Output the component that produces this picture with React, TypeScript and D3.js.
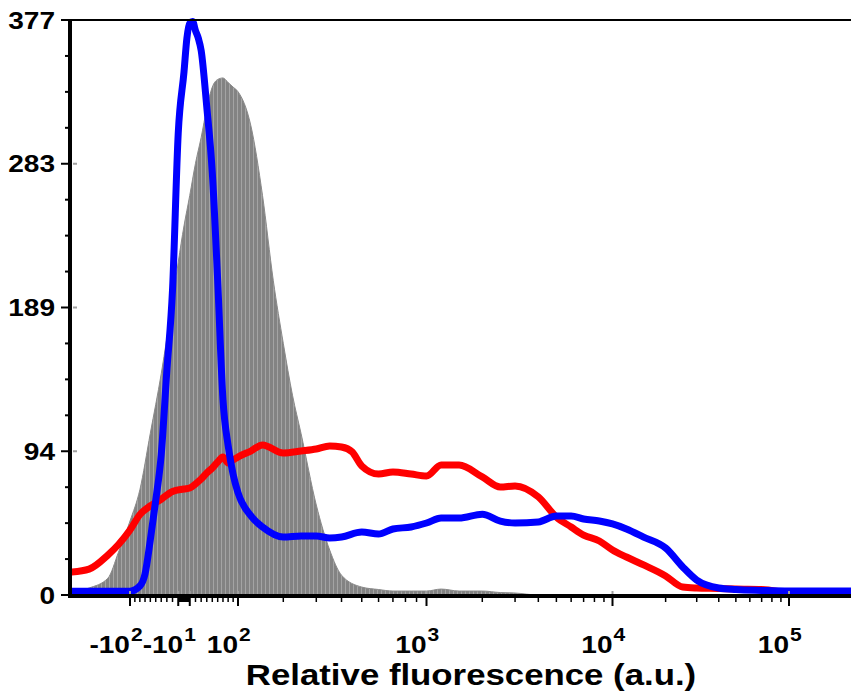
import React from "react";
import * as d3 from "d3";

// ---------- data (fluorescence value, event count) ----------
const grayX = [-255, -200, -150, -125, -100, -80, -60, -40, -20, 0, 10, 20, 30, 40, 50, 60, 70, 80, 90, 100, 125, 150, 175, 200, 225, 250, 300, 350, 400, 500, 600, 700, 850, 1000, 1200, 1500, 2000, 2500, 3000, 4000, 230000];
const grayCount = [2, 4.6, 11, 28, 48.5, 69, 106, 145, 193, 242, 262, 283, 300, 319, 333, 338, 339, 336, 333, 330, 308, 262, 206, 165, 131, 106, 59, 29.5, 13, 5.2, 3.6, 2.6, 2.6, 2.6, 3.9, 2.6, 2.6, 1.6, 1.3, 0, 0];

const redX = [-255, -200, -150, -125, -100, -80, -60, -40, -20, 0, 10, 20, 30, 40, 50, 60, 70, 80, 90, 100, 125, 150, 200, 250, 300, 350, 400, 450, 500, 600, 700, 850, 1000, 1200, 1500, 2000, 2500, 3000, 4000, 5000, 6000, 7000, 8500, 10000, 12000, 15000, 20000, 25000, 30000, 40000, 50000, 70000, 100000, 150000, 230000];
const redCount = [15.1, 17, 26.2, 33.1, 42.6, 52.7, 58.4, 62.8, 67.9, 69.5, 70.2, 72.8, 76, 80, 83.3, 87.2, 90.5, 86.6, 88.5, 90.5, 94.4, 98.4, 93.1, 94.4, 95.7, 97.7, 97, 93.8, 84.6, 79.3, 80.7, 79.3, 78, 85.2, 85.2, 77.4, 70.8, 71.5, 64.3, 51.1, 44.6, 39.3, 35.4, 29.5, 24.9, 19.7, 12.5, 5.2, 4.6, 4.3, 3.9, 3.6, 1.3, 0, 0];

const blueX = [-255, -150, -100, -80, -70, -60, -50, -40, -30, -20, -10, 0, 5, 10, 15, 20, 25, 30, 40, 50, 60, 70, 80, 90, 100, 125, 150, 200, 250, 300, 350, 400, 500, 600, 700, 850, 1000, 1200, 1500, 2000, 2500, 3000, 4000, 5000, 6000, 7000, 8500, 10000, 12000, 15000, 20000, 25000, 30000, 40000, 50000, 70000, 100000, 230000];
const blueCount = [2.5, 2.5, 2.5, 5.9, 13.8, 36, 62, 92, 147, 200, 303, 343, 365, 375, 376, 370, 365, 357, 320, 277, 206, 128, 98, 79, 67, 52, 44.6, 38, 38.7, 38.7, 37.4, 38, 41.3, 40, 43.3, 44.6, 47.2, 50.5, 50.5, 53, 48.5, 47.2, 47.9, 51.8, 51.8, 49.8, 48.5, 46.6, 43.3, 38, 30.8, 18.4, 9.8, 4.6, 3.6, 3, 2.6, 2.6];

const yMax = 377;
const yTickValues = [0, 94.25, 188.5, 282.75, 377];
const yTickLabels = ["0", "94", "189", "283", "377"];

const xMajorTicks = [-100, -10, 10, 100, 1000, 10000, 100000];
const xMinorTicks = [
  -90, -80, -70, -60, -50, -40, -30, -20,
  -9, -8, -7, -6, -5, -4, -3, -2, -1, 1, 2, 3, 4, 5, 6, 7, 8, 9,
  20, 30, 40, 50, 60, 70, 80, 90,
  200, 300, 400, 500, 600, 700, 800, 900,
  2000, 3000, 4000, 5000, 6000, 7000, 8000, 9000,
  20000, 30000, 40000, 50000, 60000, 70000, 80000, 90000,
];
const xTickLabels = [
  { v: -100, base: "-10", exp: "2" },
  { v: -10, base: "-10", exp: "1" },
  { v: 100, base: "10", exp: "2" },
  { v: 1000, base: "10", exp: "3" },
  { v: 10000, base: "10", exp: "4" },
  { v: 100000, base: "10", exp: "5" },
];
const xTitle = "Relative fluorescence (a.u.)";

// ---------- layout ----------
const W = 851;
const H = 693;
const LEFT = 72;
const TOP = 20;
const BOTTOM = 595;
const FONT = "'Liberation Sans', Arial, Helvetica, sans-serif";
const SX = 1.17;

export default function App() {
  const T = (v: number) => Math.asinh(v / 150);
  const xs = d3
    .scaleLinear()
    .domain([-100, 100, 1000, 10000, 100000].map(T))
    .range([130, 238, 426.5, 612.5, 789]);
  const x = (v: number) => xs(T(v));
  const y = d3.scaleLinear().domain([0, yMax]).range([BOTTOM, TOP]);

  const zip = (a: number[], b: number[]) => a.map((v, i) => [v, b[i]] as [number, number]);
  const line = d3
    .line<[number, number]>()
    .x((d) => x(d[0]))
    .y((d) => y(d[1]))
    .curve(d3.curveMonotoneX);
  const area = d3
    .area<[number, number]>()
    .x((d) => x(d[0]))
    .y0(y(0))
    .y1((d) => y(d[1]))
    .curve(d3.curveMonotoneX);

  const yMinor = d3.range(0, 17).filter((k) => k % 4 !== 0).map((k) => (k * yMax) / 16);

  return (
    <svg
      width={W}
      height={H}
      style={{ position: "absolute", left: 0, top: 0, background: "#fff" }}
      fontFamily={FONT}
      fontWeight="bold"
    >
      <defs>
        <clipPath id="plot">
          <rect x={LEFT} y={0} width={W - LEFT} height={BOTTOM + 1} />
        </clipPath>
        <pattern id="stripes" patternUnits="userSpaceOnUse" width={4} height={10}>
          <rect width={4} height={10} fill="#838383" />
          <rect x={1} width={1} height={10} fill="#a4a4a4" />
        </pattern>
      </defs>

      <g clipPath="url(#plot)">
        <path d={area(zip(grayX, grayCount)) || ""} fill="url(#stripes)" stroke="#8a8a8a" strokeWidth={1} />
        <path
          d={line(zip(redX, redCount)) || ""}
          fill="none"
          stroke="#ff0000"
          strokeWidth={7}
          strokeLinejoin="round"
          strokeLinecap="round"
        />
        <path
          d={line(zip(blueX, blueCount)) || ""}
          fill="none"
          stroke="#0000ff"
          strokeWidth={7}
          strokeLinejoin="round"
          strokeLinecap="round"
        />
      </g>

      {/* inner light marks at major ticks */}
      {xMajorTicks.map((v) => (
        <rect key={"gm" + v} x={x(v) - 1} y={BOTTOM - 4} width={2} height={4} fill="#a0a0a0" />
      ))}
      {yTickValues.map((v) => (
        <rect key={"gy" + v} x={LEFT + 1} y={y(v) - 1} width={4} height={2} fill="#a0a0a0" />
      ))}

      {/* top border */}
      <line x1={LEFT - 2} x2={W} y1={TOP} y2={TOP} stroke="#000" strokeWidth={2} />

      {/* y axis */}
      <line x1={LEFT - 2} x2={LEFT - 2} y1={TOP - 1} y2={BOTTOM + 3} stroke="#000" strokeWidth={4} />
      {yTickValues.map((v) => (
        <line key={"yt" + v} x1={LEFT - 11} x2={LEFT - 2} y1={y(v)} y2={y(v)} stroke="#000" strokeWidth={2} />
      ))}
      {yMinor.map((v) => (
        <line key={"ym" + v} x1={LEFT - 7} x2={LEFT - 2} y1={y(v)} y2={y(v)} stroke="#000" strokeWidth={2} />
      ))}
      {yTickValues.map((v, i) => (
        <text
          key={"yl" + v}
          transform={`translate(55,${y(v) + 8.5}) scale(${SX},1)`}
          textAnchor="end"
          fontSize={24}
          fill="#000"
        >
          {yTickLabels[i]}
        </text>
      ))}

      {/* x axis */}
      <line x1={LEFT - 4} x2={W} y1={BOTTOM + 1} y2={BOTTOM + 1} stroke="#000" strokeWidth={4} />
      {xMajorTicks.map((v) => (
        <line key={"xt" + v} x1={x(v)} x2={x(v)} y1={BOTTOM} y2={BOTTOM + 11} stroke="#000" strokeWidth={2} />
      ))}
      {xMinorTicks.map((v) => (
        <line key={"xm" + v} x1={x(v)} x2={x(v)} y1={BOTTOM} y2={BOTTOM + 7} stroke="#000" strokeWidth={1.5} />
      ))}
      {xTickLabels.map((t) => {
        const px = x(t.v) + (t.v === -10 ? 5 : 0);
        return (
          <g key={"xl" + t.v}>
            <text transform={`translate(${px},652.5) scale(${SX},1)`} textAnchor="end" fontSize={24} fill="#000">
              {t.base}
            </text>
            <text transform={`translate(${px + 1},640.5) scale(${SX},1)`} textAnchor="start" fontSize={18} fill="#000">
              {t.exp}
            </text>
          </g>
        );
      })}

      <text transform={`translate(471,685) scale(1.16,1)`} textAnchor="middle" fontSize={30} fill="#000">
        {xTitle}
      </text>
    </svg>
  );
}
